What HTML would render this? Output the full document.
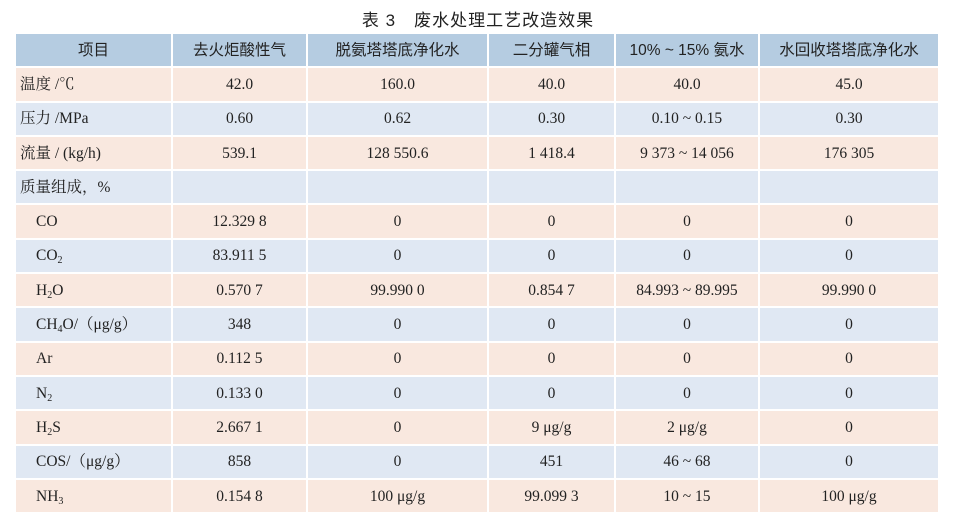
<!DOCTYPE html>
<html><head><meta charset="utf-8"><style>
body{margin:0;background:#fff;width:956px;height:532px;overflow:hidden;position:relative}
.t{position:absolute;top:6px;left:0;width:956px;text-align:center;font:17px "Liberation Sans","Noto Sans CJK SC",sans-serif;color:#222;letter-spacing:1px}
table{position:absolute;left:14px;top:32px;border-collapse:separate;border-spacing:2px;font:15.5px/18px "Liberation Serif","Noto Serif CJK SC",serif;color:#222}
td{height:31.3px;padding:1px 0 0 0;text-align:center;white-space:nowrap;box-sizing:content-box}
tr.h td{background:#b5cce1;font-family:"Liberation Sans","Noto Sans CJK SC",sans-serif;font-size:15.5px}
tr.p td{background:#f9e8df}
tr.b td{background:#e0e8f3}
td.l{text-align:left;padding-left:4px}
td.i{text-align:left;padding-left:20px}
sub{font-size:10px;vertical-align:-3px;line-height:0}
</style></head><body>
<div class="t">表 3　废水处理工艺改造效果</div>
<table>
<colgroup><col style="width:155px"><col style="width:133px"><col style="width:179px"><col style="width:125px"><col style="width:142px"><col style="width:178px"></colgroup>
<tr class="h"><td>项目</td><td>去火炬酸性气</td><td>脱氨塔塔底净化水</td><td>二分罐气相</td><td>10% ~ 15% 氨水</td><td>水回收塔塔底净化水</td></tr>
<tr class="p"><td class="l">温度 /℃</td><td>42.0</td><td>160.0</td><td>40.0</td><td>40.0</td><td>45.0</td></tr>
<tr class="b"><td class="l">压力 /MPa</td><td>0.60</td><td>0.62</td><td>0.30</td><td>0.10 ~ 0.15</td><td>0.30</td></tr>
<tr class="p"><td class="l">流量 / (kg/h)</td><td>539.1</td><td>128 550.6</td><td>1 418.4</td><td>9 373 ~ 14 056</td><td>176 305</td></tr>
<tr class="b"><td class="l">质量组成，%</td><td></td><td></td><td></td><td></td><td></td></tr>
<tr class="p"><td class="i">CO</td><td>12.329 8</td><td>0</td><td>0</td><td>0</td><td>0</td></tr>
<tr class="b"><td class="i">CO<sub>2</sub></td><td>83.911 5</td><td>0</td><td>0</td><td>0</td><td>0</td></tr>
<tr class="p"><td class="i">H<sub>2</sub>O</td><td>0.570 7</td><td>99.990 0</td><td>0.854 7</td><td>84.993 ~ 89.995</td><td>99.990 0</td></tr>
<tr class="b"><td class="i">CH<sub>4</sub>O/（μg/g）</td><td>348</td><td>0</td><td>0</td><td>0</td><td>0</td></tr>
<tr class="p"><td class="i">Ar</td><td>0.112 5</td><td>0</td><td>0</td><td>0</td><td>0</td></tr>
<tr class="b"><td class="i">N<sub>2</sub></td><td>0.133 0</td><td>0</td><td>0</td><td>0</td><td>0</td></tr>
<tr class="p"><td class="i">H<sub>2</sub>S</td><td>2.667 1</td><td>0</td><td>9 μg/g</td><td>2 μg/g</td><td>0</td></tr>
<tr class="b"><td class="i">COS/（μg/g）</td><td>858</td><td>0</td><td>451</td><td>46 ~ 68</td><td>0</td></tr>
<tr class="p"><td class="i">NH<sub>3</sub></td><td>0.154 8</td><td>100 μg/g</td><td>99.099 3</td><td>10 ~ 15</td><td>100 μg/g</td></tr>
</table>
</body></html>
